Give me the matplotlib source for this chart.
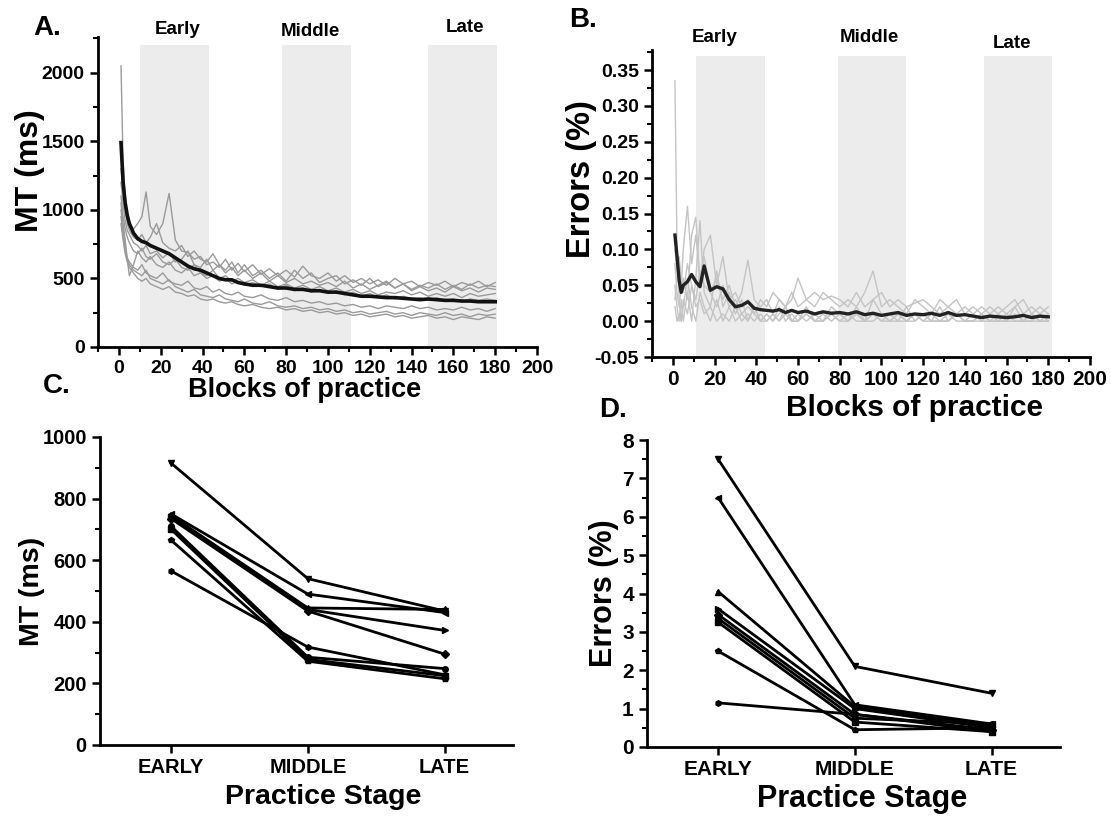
import numpy as np
import matplotlib.pyplot as plt
from matplotlib.ticker import MultipleLocator

plt.rcParams['font.family'] = ['Liberation Sans', 'DejaVu Sans']
plt.rcParams['font.weight'] = 'bold'
plt.rcParams['axes.labelweight'] = 'bold'

# ---- data: blocks of practice (A, B) ----
blocks = [1, 2, 3, 4, 5, 7, 9, 11, 13, 15, 18, 21, 24, 27, 30, 33, 36, 39, 42, 45,
          48, 51, 54, 57, 60, 64, 68, 72, 76, 80, 84, 88, 92, 96, 100, 104, 108, 112,
          116, 120, 124, 128, 132, 136, 140, 144, 148, 152, 156, 160, 164, 168, 172, 176, 180]

mt_mean = [1490, 1200, 1050, 960, 900, 830, 790, 770, 760, 740, 720, 700, 680, 650, 620,
           590, 570, 560, 540, 520, 500, 490, 490, 470, 460, 450, 450, 440, 430, 430, 420,
           420, 410, 410, 400, 400, 390, 380, 370, 370, 365, 360, 360, 355, 350, 345, 350,
           345, 340, 340, 335, 335, 330, 330, 330]

mt_subjects = [
    [2050, 1350, 1100, 980, 900, 860, 900, 950, 1130, 880, 820, 900, 1120, 780, 700, 690,
     640, 660, 600, 620, 580, 640, 560, 610, 550, 600, 530, 570, 520, 560, 510, 590, 520,
     500, 540, 480, 520, 470, 500, 460, 490, 450, 500, 460, 480, 440, 470, 450, 480, 440,
     470, 450, 480, 440, 470],
    [1300, 1150, 1000, 900, 850, 800, 780, 820, 760, 800, 900, 760, 720, 700, 740, 660,
     700, 640, 620, 680, 600, 560, 620, 540, 600, 520, 560, 500, 540, 480, 560, 500, 540,
     470, 500, 520, 460, 490, 450, 500, 440, 470, 430, 460, 420, 450, 430, 460, 420, 450,
     420, 460, 430, 450, 440],
    [1200, 1050, 920, 850, 820, 760, 740, 700, 740, 680, 700, 650, 690, 620, 640, 700,
     600, 580, 640, 560, 600, 540, 580, 520, 560, 500, 540, 480, 520, 470, 500, 460, 480,
     450, 470, 440, 480, 430, 460, 420, 450, 480, 430, 460, 410, 440, 410, 430, 400, 440,
     410, 430, 400, 430, 420],
    [1100, 950, 860, 800, 760, 700, 680, 720, 660, 640, 680, 620, 600, 640, 580, 560,
     600, 540, 520, 560, 500, 520, 480, 500, 470, 490, 450, 480, 440, 460, 430, 450, 420,
     440, 410, 430, 400, 420, 390, 410, 380, 400, 390, 410, 380, 400, 370, 390, 370, 390,
     360, 390, 370, 380, 390],
    [1050, 900, 780, 640, 520, 600, 700, 650, 620, 660, 600, 580, 620, 560, 540, 580,
     520, 540, 500, 520, 480, 500, 460, 480, 450, 470, 440, 460, 420, 450, 410, 430, 400,
     420, 390, 410, 380, 400, 370, 390, 360, 380, 350, 370, 350, 360, 340, 360, 340, 350,
     330, 350, 340, 350, 340],
    [1000, 850, 720, 650, 620, 580, 560, 600, 540, 520, 500, 540, 480, 460, 450, 480,
     430, 420, 440, 400, 420, 390, 380, 400, 370, 360, 380, 350, 340, 360, 330, 340, 320,
     330, 310, 320, 300, 310, 290, 300, 280, 300, 290, 280, 300, 280, 290, 270, 280, 270,
     290, 270, 280, 260, 280],
    [950, 820, 700, 640, 600, 560, 540, 520, 560, 500, 480, 460, 490, 440, 420, 400,
     420, 380, 370, 360, 380, 350, 340, 330, 350, 320, 310, 330, 300, 290, 300, 280, 290,
     270, 280, 260, 270, 250, 260, 240, 250, 260, 240, 250, 230, 250, 240, 230, 250, 230,
     240, 220, 240, 230, 240],
    [900, 780, 680, 620, 580, 540, 500, 480, 500, 460, 440, 420, 440, 400, 390, 370,
     380, 350, 340, 350, 330, 320, 330, 310, 300, 310, 290, 280, 290, 270, 280, 260, 270,
     250, 260, 240, 250, 230, 240, 220, 230, 240, 220, 230, 210, 220, 230, 210, 220, 200,
     220, 210, 200, 220, 210],
]

err_mean = [0.120, 0.090, 0.057, 0.040, 0.050, 0.055, 0.065, 0.055, 0.048, 0.077, 0.043,
            0.048, 0.045, 0.030, 0.020, 0.022, 0.027, 0.018, 0.016, 0.015, 0.014, 0.016,
            0.012, 0.015, 0.012, 0.014, 0.010, 0.013, 0.011, 0.012, 0.010, 0.013, 0.009,
            0.011, 0.008, 0.010, 0.012, 0.008, 0.010, 0.009, 0.011, 0.008, 0.012, 0.008,
            0.009, 0.007, 0.005, 0.007, 0.006, 0.005, 0.006, 0.008, 0.005, 0.007, 0.006]

err_subjects = [
    [0.335, 0.10, 0.03, 0.0, 0.02, 0.06, 0.02, 0.0, 0.04, 0.02, 0.0, 0.03, 0.0, 0.02,
     0.0, 0.01, 0.0, 0.02, 0.0, 0.0, 0.01, 0.0, 0.02, 0.0, 0.0, 0.01, 0.0, 0.0, 0.01,
     0.0, 0.0, 0.01, 0.0, 0.0, 0.01, 0.0, 0.0, 0.0, 0.01, 0.0, 0.0, 0.0, 0.01, 0.0, 0.0,
     0.0, 0.0, 0.0, 0.01, 0.0, 0.0, 0.0, 0.0, 0.0, 0.0],
    [0.08, 0.04, 0.02, 0.05, 0.10, 0.16, 0.08, 0.12, 0.06, 0.09, 0.04, 0.06, 0.03, 0.05,
     0.02, 0.04, 0.085, 0.03, 0.02, 0.03, 0.01, 0.03, 0.02, 0.04, 0.02, 0.03, 0.02, 0.04,
     0.03, 0.02, 0.03, 0.02, 0.04, 0.07, 0.02, 0.03, 0.02, 0.01, 0.03, 0.02, 0.01, 0.03,
     0.02, 0.01, 0.02, 0.01, 0.02, 0.01, 0.02, 0.01, 0.02, 0.03, 0.01, 0.02, 0.01],
    [0.03, 0.06, 0.08, 0.04, 0.06, 0.03, 0.12, 0.145, 0.05, 0.10, 0.12, 0.05, 0.09, 0.03,
     0.04, 0.02, 0.03, 0.01, 0.03, 0.02, 0.04, 0.03, 0.02, 0.03, 0.06, 0.03, 0.04, 0.03,
     0.035, 0.03, 0.02, 0.04, 0.02, 0.03, 0.04, 0.02, 0.03, 0.02, 0.025, 0.03, 0.02,
     0.01, 0.02, 0.03, 0.01, 0.02, 0.01, 0.02, 0.01, 0.02, 0.03, 0.01, 0.02, 0.01, 0.02],
    [0.05, 0.02, 0.0, 0.03, 0.0, 0.04, 0.0, 0.06, 0.14, 0.04, 0.02, 0.07, 0.02, 0.04,
     0.01, 0.03, 0.0, 0.02, 0.0, 0.01, 0.0, 0.02, 0.0, 0.01, 0.0, 0.02, 0.0, 0.01, 0.0,
     0.01, 0.0, 0.02, 0.0, 0.01, 0.0, 0.01, 0.0, 0.02, 0.0, 0.01, 0.0, 0.02, 0.0, 0.01,
     0.0, 0.01, 0.0, 0.01, 0.0, 0.0, 0.02, 0.0, 0.01, 0.0, 0.01],
    [0.02, 0.0, 0.01, 0.0, 0.03, 0.01, 0.05, 0.02, 0.03, 0.01, 0.02, 0.0, 0.01, 0.0,
     0.02, 0.0, 0.01, 0.0, 0.01, 0.0, 0.01, 0.0, 0.01, 0.0, 0.0, 0.01, 0.0, 0.0, 0.01,
     0.0, 0.01, 0.0, 0.0, 0.01, 0.0, 0.0, 0.01, 0.0, 0.0, 0.01, 0.0, 0.0, 0.0, 0.01, 0.0,
     0.0, 0.01, 0.0, 0.0, 0.0, 0.01, 0.0, 0.0, 0.01, 0.0],
    [0.10, 0.07, 0.09, 0.06, 0.04, 0.08, 0.05, 0.03, 0.07, 0.05, 0.04, 0.02, 0.05, 0.02,
     0.03, 0.01, 0.02, 0.01, 0.0, 0.01, 0.0, 0.01, 0.02, 0.0, 0.01, 0.0, 0.01, 0.0, 0.02,
     0.01, 0.0, 0.01, 0.0, 0.03, 0.01, 0.0, 0.01, 0.0, 0.01, 0.0, 0.01, 0.0, 0.0, 0.01,
     0.0, 0.0, 0.01, 0.0, 0.0, 0.01, 0.0, 0.0, 0.01, 0.0, 0.0],
]

stage_bands = [(10, 43), (78, 111), (148, 181)]
stage_names = ['Early', 'Middle', 'Late']

# ---- data: practice stage (C, D) ----
stages = ['EARLY', 'MIDDLE', 'LATE']
mt_stage = [
    [915, 540, 435],
    [750, 490, 430],
    [745, 445, 440],
    [740, 440, 372],
    [735, 435, 295],
    [710, 285, 248],
    [700, 278, 225],
    [665, 272, 215],
    [565, 318, 228],
]
err_stage = [
    [7.5, 2.1, 1.4],
    [6.5, 1.1, 0.6],
    [4.05, 1.05, 0.55],
    [3.6, 1.0, 0.5],
    [3.45, 0.85, 0.45],
    [3.35, 0.75, 0.6],
    [3.25, 0.65, 0.4],
    [2.5, 0.45, 0.5],
    [1.15, 0.85, 0.4],
]
markers = ['v', '<', '^', '>', 'D', 'o', 's', 'p', 'h']

W, H = 1111, 818
fig = plt.figure(figsize=(W / 100, H / 100), dpi=100)


def box(l, t, r, b):
    return [l / W, 1 - b / H, (r - l) / W, (b - t) / H]


def style(ax, size):
    for s in ['top', 'right']:
        ax.spines[s].set_visible(False)
    for s in ['left', 'bottom']:
        ax.spines[s].set_linewidth(2)
    ax.tick_params(which='major', direction='out', length=6, width=1.8, labelsize=size)
    ax.tick_params(which='minor', direction='out', length=3.5, width=1.5)


axA = fig.add_axes(box(98, 37, 537, 347))
axB = fig.add_axes(box(652, 50, 1090, 357))
axC = fig.add_axes(box(100, 437, 513, 745))
axD = fig.add_axes(box(647, 440, 1060, 747))

# A
for a, b in stage_bands:
    axA.fill_between([a, b], 0, 2200, color='#ececec', lw=0, zorder=0)
for ys in mt_subjects:
    axA.plot(blocks, ys, color='#9a9a9a', lw=1.0, zorder=2)
axA.plot(blocks, mt_mean, color='#111111', lw=2.6, zorder=3)
axA.set_xlim(-10, 200)
axA.set_ylim(0, 2260)
axA.xaxis.set_major_locator(MultipleLocator(20))
axA.xaxis.set_minor_locator(MultipleLocator(10))
axA.yaxis.set_major_locator(MultipleLocator(500))
axA.yaxis.set_minor_locator(MultipleLocator(250))
style(axA, 14)
axA.set_ylabel('MT (ms)', fontsize=23, va='center')
axA.yaxis.set_label_coords(-0.155, 0.57)
axA.set_xlabel('Blocks of practice', fontsize=19.5, va='center')
axA.xaxis.set_label_coords(0.47, -0.14)

# B
for a, b in stage_bands:
    axB.fill_between([a + 1, b + 1], -0.05, 0.37, color='#ececec', lw=0, zorder=0)
for ys in err_subjects:
    axB.plot(blocks, ys, color='#c4c4c4', lw=1.0, zorder=2)
axB.plot(blocks, err_mean, color='#222222', lw=2.4, zorder=3)
axB.set_xlim(-10, 200)
axB.set_ylim(-0.05, 0.378)
axB.xaxis.set_major_locator(MultipleLocator(20))
axB.xaxis.set_minor_locator(MultipleLocator(10))
axB.yaxis.set_minor_locator(MultipleLocator(0.025))
axB.set_yticks(np.arange(-0.05, 0.36, 0.05))
axB.set_yticklabels(['%.2f' % v for v in np.arange(-0.05, 0.36, 0.05)])
style(axB, 14)
axB.tick_params(axis='x', labelsize=15)
axB.set_ylabel('Errors (%)', fontsize=23.5, va='center')
axB.yaxis.set_label_coords(-0.16, 0.58)
axB.set_xlabel('Blocks of practice', fontsize=21.5, va='center')
axB.xaxis.set_label_coords(0.6, -0.165)

# C
for ys, m in zip(mt_stage, markers):
    axC.plot(range(3), ys, color='black', lw=2, marker=m, ms=4)
axC.set_xlim(-0.52, 2.5)
axC.set_ylim(0, 1000)
axC.set_xticks(range(3))
axC.set_xticklabels(stages)
axC.yaxis.set_major_locator(MultipleLocator(200))
axC.yaxis.set_minor_locator(MultipleLocator(100))
style(axC, 14.5)
axC.set_ylabel('MT (ms)', fontsize=20.5, va='center')
axC.yaxis.set_label_coords(-0.165, 0.5)
axC.set_xlabel('Practice Stage', fontsize=20.5, va='center')
axC.xaxis.set_label_coords(0.54, -0.17)

# D
for ys, m in zip(err_stage, markers):
    axD.plot(range(3), ys, color='black', lw=2, marker=m, ms=4)
axD.set_xlim(-0.52, 2.5)
axD.set_ylim(0, 8)
axD.set_xticks(range(3))
axD.set_xticklabels(stages)
axD.yaxis.set_major_locator(MultipleLocator(1))
axD.yaxis.set_minor_locator(MultipleLocator(0.5))
style(axD, 15)
axD.set_ylabel('Errors (%)', fontsize=22, va='center')
axD.yaxis.set_label_coords(-0.105, 0.5)
axD.set_xlabel('Practice Stage', fontsize=22, va='center')
axD.xaxis.set_label_coords(0.52, -0.17)


# panel letters and stage headers
def ftext(x, y, s, size):
    fig.text(x / W, 1 - y / H, s, fontsize=size, fontweight='bold', ha='center', va='center')


ftext(47, 28, 'A.', 20)
ftext(583, 20, 'B.', 20)
ftext(57, 386, 'C.', 20)
ftext(613, 410, 'D.', 20)
for s, (x, y) in zip(stage_names, [(178, 29), (310, 31), (465, 27)]):
    ftext(x, y, s, 13.5)
for s, (x, y) in zip(stage_names, [(715, 38), (869, 37), (1012, 43)]):
    ftext(x, y, s, 13.5)

fig.savefig('out.png', dpi=100)
